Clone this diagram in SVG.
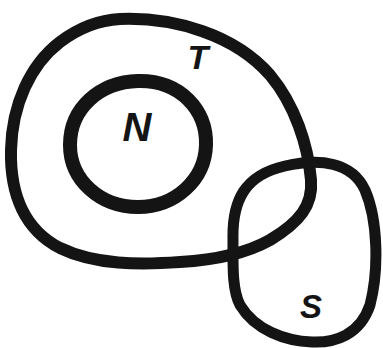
<svg xmlns="http://www.w3.org/2000/svg" width="383" height="348" viewBox="0 0 383 348">
<style>
.ring{fill:none;stroke:#141414;stroke-linejoin:round}
.lbl{font-family:"Liberation Sans",Arial,sans-serif;font-style:italic;font-weight:bold;fill:#141414;text-anchor:middle}
</style>
<rect width="383" height="348" fill="#fff"/>
<g id="T">
<path class="ring" stroke-width="12" d="M 120,19 C 175,17 235,35 270,75 C 295,105 308,145 311,180 C 313,205 300,222 270,240 C 245,254 215,260 180,262 C 140,265 95,265 60,248 C 25,230 10,195 11,150 C 12,105 30,65 60,42 C 80,27 100,20 120,19 Z"/>
<text class="lbl" x="198" y="69" font-size="34">T</text>
</g>
<g id="N">
<path class="ring" stroke-width="14" d="M 138,81 C 180,80 207,110 206,145 C 205,180 175,207 138,207 C 100,207 70,180 70,145 C 70,108 100,82 138,81 Z"/>
<text class="lbl" x="137" y="141" font-size="40">N</text>
</g>
<g id="S">
<path class="ring" stroke-width="11" d="M 233,240 C 232,200 245,175 285,166 C 320,158 352,162 365,190 C 378,220 379,270 370,305 C 360,335 335,343 312,342 C 285,341 255,330 240,305 C 232,290 233,265 233,240 Z"/>
<text class="lbl" x="311" y="318" font-size="33">S</text>
</g>
<g id="connectors"></g>
</svg>
